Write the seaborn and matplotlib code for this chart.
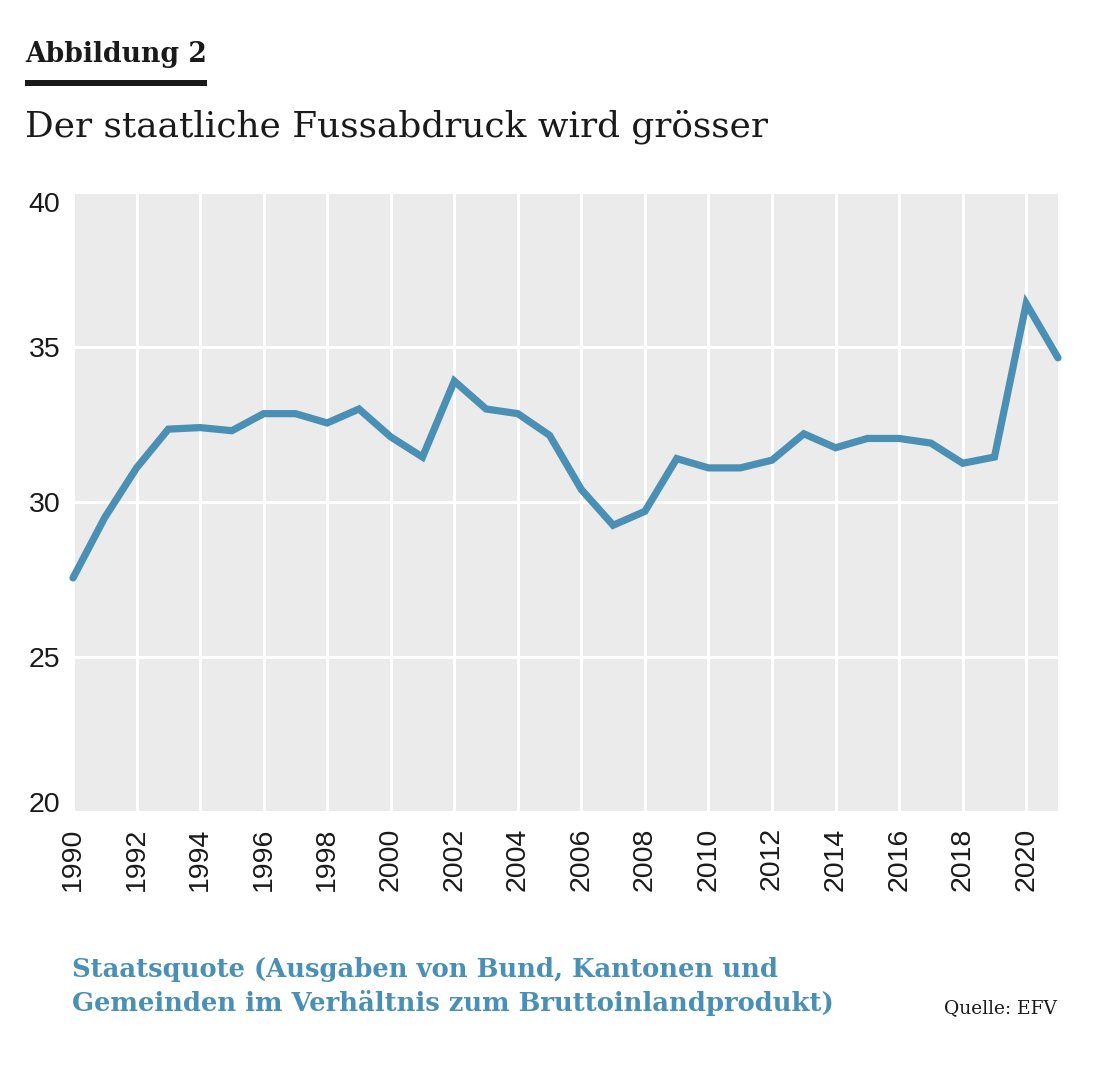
import numpy as np
import pandas as pd
import matplotlib
matplotlib.use("Agg")
import matplotlib.pyplot as plt
from matplotlib.patches import Rectangle
import seaborn as sns

# Daten
jahre = list(range(1990, 2022))
staatsquote = [27.55, 29.5, 31.1, 32.35, 32.4, 32.3, 32.85, 32.85, 32.55, 33.0,
               32.1, 31.45, 33.9, 33.0, 32.85, 32.15, 30.4, 29.25, 29.7, 31.4,
               31.1, 31.1, 31.35, 32.2, 31.75, 32.05, 32.05, 31.9, 31.25, 31.45,
               36.4, 34.65]
y_ticks = [20, 25, 30, 35, 40]
x_ticks = list(range(1990, 2021, 2))

titel = "Abbildung 2"
untertitel = "Der staatliche Fussabdruck wird grösser"
fusszeile = ["Staatsquote (Ausgaben von Bund, Kantonen und",
             "Gemeinden im Verhältnis zum Bruttoinlandprodukt)"]
quelle = "Quelle: EFV"

df = pd.DataFrame({"Jahr": jahre, "Staatsquote": staatsquote})

sns.set_theme(style="darkgrid", rc={
    "axes.facecolor": "#ebebeb",
    "grid.color": "white",
    "grid.linewidth": 2.2,
    "axes.edgecolor": "none",
})
plt.rcParams["font.family"] = ["Liberation Sans", "DejaVu Sans"]

blau = "#4a90b4"
W, H = 1104, 1067
fig = plt.figure(figsize=(W / 100, H / 100), dpi=100)
fig.patch.set_facecolor("white")

# Achsenposition in Pixeln -> Figurkoordinaten
links, rechts, oben, unten = 73, 1058, 192, 812
ax = fig.add_axes([links / W, 1 - unten / H, (rechts - links) / W, (unten - oben) / H])

sns.lineplot(data=df, x="Jahr", y="Staatsquote", ax=ax, color=blau,
             linewidth=5.2, solid_capstyle="round", solid_joinstyle="miter")
for ln in ax.lines:
    ln.set_clip_on(False)

ax.set_xlim(1990, 2021)
ax.set_ylim(20, 40)
ax.set_xticks(x_ticks)
ax.set_xticklabels([str(j) for j in x_ticks], rotation=90)
ax.set_yticks(y_ticks)
ax.set_xlabel("")
ax.set_ylabel("")
ax.tick_params(axis="both", length=0, labelsize=20.5, colors="#1a1a1a")
ax.tick_params(axis="x", pad=11)
ax.tick_params(axis="y", pad=9)
# oberstes und unterstes Label nach innen schieben wie in der Vorlage
ylabs = ax.get_yticklabels()
ylabs[0].set_va("baseline")
ylabs[-1].set_va("top")
for s in ax.spines.values():
    s.set_visible(False)

def fy(py):
    return 1 - py / H

serif = ["DejaVu Serif"]
fig.text(25 / W, fy(62), titel, family=serif, weight="bold", fontsize=19.2,
         color="#1a1a1a", va="baseline", ha="left")
fig.add_artist(Rectangle((25 / W, fy(86)), 182 / W, 6 / H,
                         transform=fig.transFigure, color="#1a1a1a", lw=0))
fig.text(25 / W, fy(137), untertitel, family=serif, fontsize=25.8,
         color="#1a1a1a", va="baseline", ha="left")
fig.text(72 / W, fy(977), fusszeile[0], family=serif, weight="bold", fontsize=18.6,
         color=blau, va="baseline", ha="left")
fig.text(72 / W, fy(1011), fusszeile[1], family=serif, weight="bold", fontsize=18.6,
         color=blau, va="baseline", ha="left")
fig.text(1057 / W, fy(1013), quelle, family=serif, fontsize=13.4,
         color="#1a1a1a", va="baseline", ha="right")

fig.savefig("out.png", dpi=100, facecolor="white")
